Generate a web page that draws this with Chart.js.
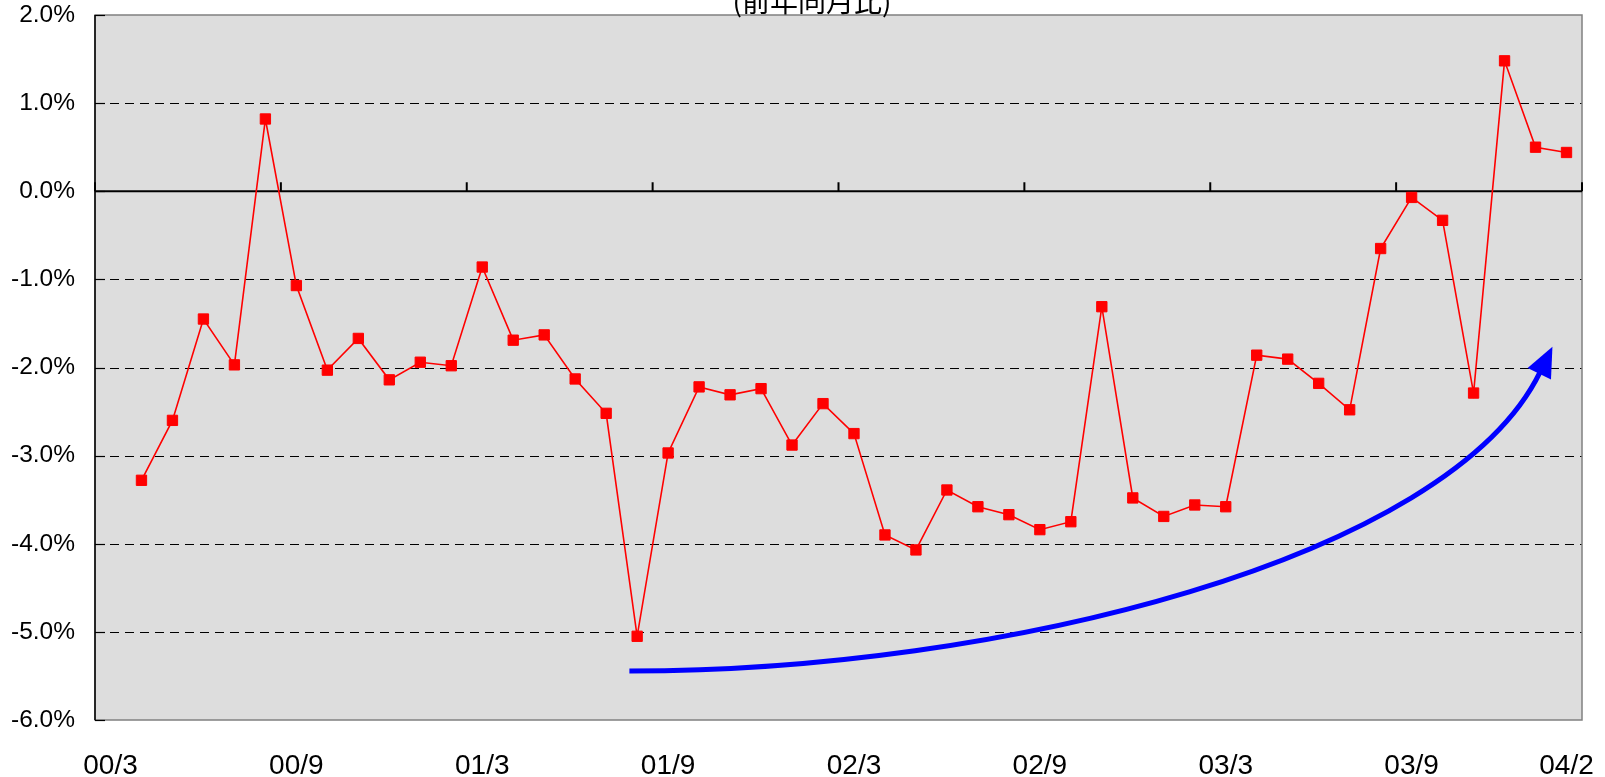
<!DOCTYPE html>
<html><head><meta charset="utf-8">
<script src="https://cdn.jsdelivr.net/npm/chart.js@4/dist/chart.umd.min.js"></script>
<style>html,body{margin:0;padding:0;background:#fff;overflow:hidden}#wrap{position:relative;width:1605px;height:777px}</style>
</head><body><div id="wrap"><canvas id="c" width="1605" height="777"></canvas></div>
<script>
const categories = [
  "00/3","00/4","00/5","00/6","00/7","00/8","00/9","00/10","00/11","00/12",
  "01/1","01/2","01/3","01/4","01/5","01/6","01/7","01/8","01/9","01/10","01/11","01/12",
  "02/1","02/2","02/3","02/4","02/5","02/6","02/7","02/8","02/9","02/10","02/11","02/12",
  "03/1","03/2","03/3","03/4","03/5","03/6","03/7","03/8","03/9","03/10","03/11","03/12",
  "04/1","04/2"
];
const tickLabelsShown = ["00/3","00/9","01/3","01/9","02/3","02/9","03/3","03/9","04/2"];
const yoyChange = [
  null, -3.28, -2.60, -1.45, -1.97, 0.82, -1.07, -2.03, -1.67, -2.14, -1.94, -1.98,
  -0.86, -1.69, -1.63, -2.13, -2.52, -5.05, -2.97, -2.22, -2.31, -2.24, -2.88, -2.41,
  -2.75, -3.90, -4.07, -3.39, -3.58, -3.67, -3.84, -3.75, -1.31, -3.48, -3.69, -3.56,
  -3.58, -1.86, -1.905, -2.18, -2.48, -0.65, -0.07, -0.33, -2.29, 1.48, 0.50, 0.44
];
const titleText = "(前年同月比)";
// trend arrow, bezier control points in data space: [category index, value %]
const arrowCurve = [[16.75, -5.445], [28.7, -5.445], [43.2, -4.18], [46.15, -2.05]];

const framePlugin = {
  id: 'frame',
  beforeDraw(chart) {
    const {ctx, chartArea: a} = chart;
    ctx.save();
    ctx.fillStyle = '#dddddd';
    ctx.fillRect(a.left, a.top, a.right - a.left, a.bottom - a.top);
    ctx.restore();
  },
  beforeDatasetsDraw(chart) {
    const {ctx, chartArea: a, scales: {x, y}} = chart;
    ctx.save();
    ctx.strokeStyle = '#000';
    ctx.lineWidth = 1;
    ctx.setLineDash([9, 6]);
    y.ticks.forEach(t => {
      if (t.value === 0 || t.value === y.max || t.value === y.min) return;
      const py = Math.round(y.getPixelForValue(t.value)) + 0.5;
      ctx.beginPath(); ctx.moveTo(a.left, py); ctx.lineTo(a.right, py); ctx.stroke();
    });
    ctx.setLineDash([]);
    ctx.strokeStyle = '#808080';
    ctx.lineWidth = 1.5;
    ctx.strokeRect(a.left, a.top, a.right - a.left, a.bottom - a.top);
    ctx.strokeStyle = '#000';
    ctx.lineWidth = 1.5;
    ctx.beginPath(); ctx.moveTo(a.left, a.top); ctx.lineTo(a.left, a.bottom); ctx.stroke();
    ctx.lineWidth = 1.2;
    y.ticks.forEach(t => {
      const py = Math.round(y.getPixelForValue(t.value)) + 0.5;
      ctx.beginPath(); ctx.moveTo(a.left, py); ctx.lineTo(a.left + 10, py); ctx.stroke();
    });
    const z = y.getPixelForValue(0);
    ctx.lineWidth = 2;
    ctx.beginPath(); ctx.moveTo(a.left, z); ctx.lineTo(a.right, z); ctx.stroke();
    const n = categories.length;
    for (let i = 0; i <= n; i += 6) {
      const px = x.getPixelForValue(i - 0.5);
      ctx.beginPath(); ctx.moveTo(px, z); ctx.lineTo(px, z - 9); ctx.stroke();
    }
    ctx.restore();
  },
  afterDatasetsDraw(chart) {
    const {ctx, scales: {x, y}} = chart;
    const P = arrowCurve.map(([i, v]) => [x.getPixelForValue(i), y.getPixelForValue(v)]);
    ctx.save();
    ctx.strokeStyle = '#0000ff';
    ctx.fillStyle = '#0000ff';
    ctx.lineWidth = 5;
    ctx.beginPath();
    ctx.moveTo(P[0][0], P[0][1]);
    ctx.bezierCurveTo(P[1][0], P[1][1], P[2][0], P[2][1], P[3][0], P[3][1]);
    ctx.stroke();
    let dx = P[3][0] - P[2][0], dy = P[3][1] - P[2][1];
    const len = Math.hypot(dx, dy); dx /= len; dy /= len;
    const hl = 30, hw = 13;
    const bx = P[3][0] - dx * 2, by = P[3][1] - dy * 2;
    ctx.beginPath();
    ctx.moveTo(bx + dx * hl, by + dy * hl);
    ctx.lineTo(bx - dy * hw, by + dx * hw);
    ctx.lineTo(bx + dy * hw, by - dx * hw);
    ctx.closePath();
    ctx.fill();
    ctx.restore();
  },
  afterDraw(chart) {
    const {ctx} = chart;
    ctx.save();
    ctx.fillStyle = '#000';
    ctx.font = '28px "Noto Sans CJK JP", sans-serif';
    ctx.textAlign = 'center';
    ctx.textBaseline = 'alphabetic';
    ctx.fillText(titleText, 812, 12);
    ctx.restore();
  }
};

new Chart(document.getElementById('c'), {
  type: 'line',
  data: {
    labels: categories,
    datasets: [{
      data: yoyChange,
      borderColor: '#ff0000',
      borderWidth: 1.6,
      pointStyle: 'rect',
      pointRadius: 7.3,
      pointBackgroundColor: '#ff0000',
      pointBorderColor: '#ff0000',
      pointBorderWidth: 1,
      tension: 0,
      spanGaps: false,
      clip: false
    }]
  },
  options: {
    responsive: false,
    animation: false,
    devicePixelRatio: 1,
    layout: {padding: {top: 15, right: 23, left: 0, bottom: 0}},
    plugins: {legend: {display: false}, tooltip: {enabled: false}, title: {display: false}},
    scales: {
      x: {
        type: 'category',
        offset: true,
        grid: {display: false, drawTicks: false},
        border: {display: false},
        afterFit(s) { s.height = 57; s.paddingLeft = 0; s.paddingRight = 0; },
        ticks: {
          autoSkip: false, maxRotation: 0, minRotation: 0, padding: 29,
          color: '#000',
          font: {family: '"Liberation Sans", Arial, sans-serif', size: 28},
          callback(v, i) { return tickLabelsShown.includes(categories[i]) ? categories[i] : ''; }
        }
      },
      y: {
        min: -6, max: 2,
        grid: {display: false, drawTicks: false},
        border: {display: false},
        afterFit(s) { s.width = 95; s.paddingTop = 0; s.paddingBottom = 0; },
        ticks: {
          stepSize: 1, padding: 20, color: '#000',
          font: {family: '"Liberation Sans", Arial, sans-serif', size: 24.5},
          callback(v) { return v.toFixed(1) + '%'; }
        }
      }
    }
  },
  plugins: [framePlugin]
});
</script>
</body></html>
